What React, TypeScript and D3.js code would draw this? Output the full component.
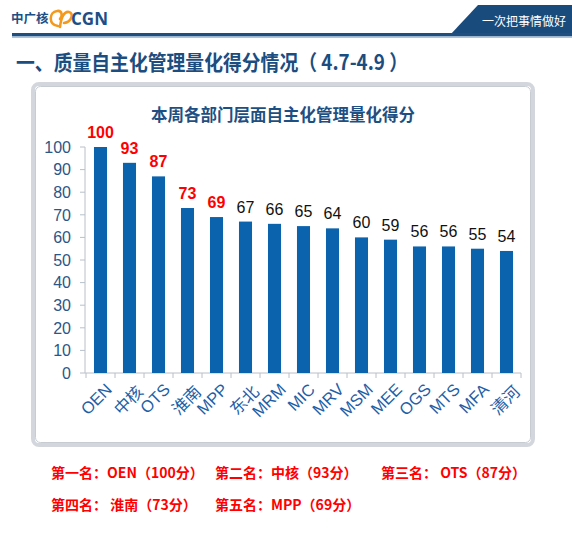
import React from "react";
import * as d3 from "d3";

const categories = ["OEN", "中核", "OTS", "淮南", "MPP", "东北", "MRM", "MIC", "MRV", "MSM", "MEE", "OGS", "MTS", "MFA", "清河"];
const scores = [100, 93, 87, 73, 69, 67, 66, 65, 64, 60, 59, 56, 56, 55, 54];
const yTicks = [0, 10, 20, 30, 40, 50, 60, 70, 80, 90, 100];
const topCount = 5;
const rankingLine1 = [
  { x: 51, text: "第一名：OEN（100分）" },
  { x: 215, text: "第二名：中核（93分）" },
  { x: 381, text: "第三名： OTS（87分）" },
];
const rankingLine2 = [
  { x: 51, text: "第四名： 淮南（73分）" },
  { x: 215, text: "第五名：MPP（69分）" },
];

const W = 572;
const H = 536;
const CJK = "'Noto Sans CJK SC', 'Noto Sans', sans-serif";
const SANS = "'Liberation Sans', Arial, sans-serif";

export default function App() {
  const x = d3.scaleBand<string>().domain(categories).range([86, 521]).paddingInner(0.55).paddingOuter(0.275);
  const y = d3.scaleLinear().domain([0, 100]).range([373, 147]);
  const bw = x.bandwidth();
  const step = x.step();

  return (
    <svg
      width={W}
      height={H}
      style={{ position: "absolute", left: 0, top: 0, background: "#fff" }}
      xmlns="http://www.w3.org/2000/svg"
    >
      <rect x={0} y={0} width={W} height={H} fill="#ffffff" />
      {/* header */}
      <text x={11} y={23} fontFamily={CJK} fontWeight={700} fontSize={12.5} fill="#1c4f86">中广核</text>
      <g fill="none" stroke="#f39a1e" strokeWidth={2.6} strokeLinecap="round">
        <path d="M58 26 C 48 25, 49 12, 57 11 C 62 10, 63 16, 60 19" />
        <path d="M60 27 C 61 18, 64 11, 69 12 C 74 13, 72 22, 64 23" />
      </g>
      <text x={71} y={25} fontFamily={"'Open Sans', 'Liberation Sans', sans-serif"} fontWeight={700} fontSize={17} fill="#1c4f86">CGN</text>
      <polygon points="478,5 572,5 572,35 450,35" fill="#1a4b7d" />
      <rect x={12} y={33} width={560} height={3.5} fill="#1f4e7f" />
      <rect x={12} y={36.5} width={560} height={1.5} fill="#a9c4e0" />
      <text x={524} y={26} textAnchor="middle" fontFamily={CJK} fontSize={12} fill="#ffffff">一次把事情做好</text>

      {/* title */}
      <text
        x={16}
        y={70}
        fontFamily={CJK}
        fontWeight={700}
        fontSize={21}
        fill="#1b4d80"
        textLength={392}
        lengthAdjust="spacingAndGlyphs"
      >
        一、质量自主化管理量化得分情况（ 4.7-4.9 ）
      </text>

      {/* chart frame */}
      <rect x={33} y={84} width={500} height={361} rx={6} fill="#ffffff" stroke="#d3d7dd" strokeWidth={4} />
      <rect x={35.5} y={86.5} width={495} height={356} rx={5} fill="none" stroke="#b9bfc8" strokeWidth={0.8} />

      <text x={283} y={121} textAnchor="middle" fontFamily={CJK} fontWeight={700} fontSize={16.5} fill="#1e4f82">
        本周各部门层面自主化管理量化得分
      </text>

      {/* y axis */}
      <line x1={85} y1={y(0)} x2={85} y2={y(100)} stroke="#b8c0ca" strokeWidth={1} />
      {yTicks.map((t) => (
        <g key={t}>
          <line x1={80} x2={85} y1={y(t)} y2={y(t)} stroke="#b8c0ca" strokeWidth={1} />
          <text x={71} y={y(t) + 5.8} textAnchor="end" fontFamily={SANS} fontSize={16} fill="#2c5687">
            {t}
          </text>
        </g>
      ))}

      {/* x axis */}
      <line x1={85} x2={521} y1={y(0)} y2={y(0)} stroke="#b8c0ca" strokeWidth={1} />
      {d3.range(categories.length + 1).map((i) => {
        const tx = 86 + i * step;
        return <line key={i} x1={tx} x2={tx} y1={y(0)} y2={y(0) + 5} stroke="#b8c0ca" strokeWidth={1} />;
      })}

      {/* bars */}
      {categories.map((c, i) => (
        <rect key={c} x={x(c)} y={y(scores[i])} width={bw} height={y(0) - y(scores[i])} fill="#0b63ad" />
      ))}

      {/* value labels */}
      {categories.map((c, i) => {
        const cx = (x(c) as number) + bw / 2;
        const top = i < topCount;
        return (
          <text
            key={c}
            x={cx}
            y={y(scores[i]) - 9}
            textAnchor="middle"
            fontFamily={SANS}
            fontWeight={top ? 700 : 400}
            fontSize={16}
            fill={top ? "#ff0000" : "#111111"}
          >
            {scores[i]}
          </text>
        );
      })}

      {/* category labels */}
      {categories.map((c) => {
        const cx = (x(c) as number) + bw / 2 + 4;
        const cy = y(0) + 9;
        return (
          <text
            key={c}
            x={cx}
            y={cy}
            textAnchor="end"
            dominantBaseline="hanging"
            transform={`rotate(-45 ${cx} ${cy})`}
            fontFamily={/^[A-Z]+$/.test(c) ? SANS : CJK}
            fontSize={16.5}
            fill="#1e5ea6"
          >
            {c}
          </text>
        );
      })}

      {/* rankings */}
      {rankingLine1.map((r) => (
        <text key={r.text} x={r.x} y={478} fontFamily={CJK} fontWeight={700} fontSize={14} fill="#ff0000">
          {r.text}
        </text>
      ))}
      {rankingLine2.map((r) => (
        <text key={r.text} x={r.x} y={510} fontFamily={CJK} fontWeight={700} fontSize={14} fill="#ff0000">
          {r.text}
        </text>
      ))}
    </svg>
  );
}
